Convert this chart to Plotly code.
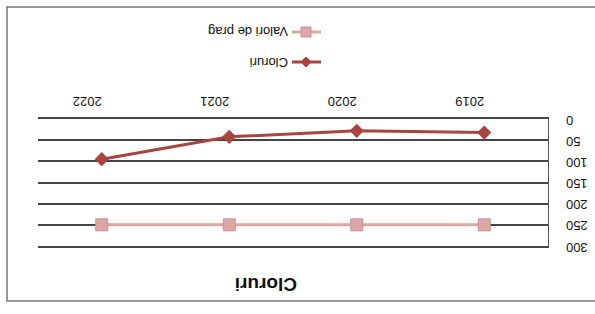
import plotly.graph_objects as go

years = ["2019", "2020", "2021", "2022"]
cloruri = [32, 28, 42, 95]
valori_prag = [250, 250, 250, 250]
y_ticks = [0, 50, 100, 150, 200, 250, 300]
y_ticktext = ["0", "50", "100", "150", "200", "250", "300"]

W, H = 595, 314
L, R, T, B = 38, 47, 119, 68
pw, ph = W - L - R, H - T - B

def px(x):
    return (x - L) / pw

def py(y):
    return (H - B - y) / ph

c_red = "#a9443f"
c_pink = "#dba6a3"
font = "Liberation Sans, Arial, sans-serif"
FS = "\u2007"
# pad so the upside-down labels line up on their left edge
padded = [FS * (3 - len(t)) + t for t in y_ticktext]

fig = go.Figure()
fig.add_trace(go.Scatter(x=years, y=cloruri, mode="lines+markers", name="Cloruri",
                         line=dict(color=c_red, width=3),
                         marker=dict(symbol="diamond", size=11, color=c_red)))
fig.add_trace(go.Scatter(x=years, y=valori_prag, mode="lines+markers", name="Valori de prag",
                         line=dict(color=c_pink, width=3),
                         marker=dict(symbol="square", size=12, color=c_pink,
                                     line=dict(color="#c99390", width=1))))

shapes = [
    dict(type="rect", xref="paper", yref="paper", x0=px(7), x1=px(603), y0=py(301), y1=py(7),
         line=dict(color="#777777", width=1.5), fillcolor="rgba(0,0,0,0)", layer="below"),
]
annotations = [
    dict(text="<b>Cloruri</b>", xref="paper", yref="paper", x=px(266), y=py(285),
         xanchor="center", yanchor="middle",
         showarrow=False, textangle=180, font=dict(size=19, color="#111", family=font)),
]
legend_items = [("Cloruri", c_red, "diamond", 62), ("Valori de prag", c_pink, "square", 32)]
for name, col, sym, yy in legend_items:
    shapes.append(dict(type="line", xref="paper", yref="paper", x0=px(292), x1=px(321),
                       y0=py(yy), y1=py(yy), line=dict(color=col, width=3)))
    if sym == "diamond":
        shapes.append(dict(type="path", xref="paper", yref="paper", xsizemode="pixel", ysizemode="pixel",
                           xanchor=px(306), yanchor=py(yy), path="M -5 0 L 0 5 L 5 0 L 0 -5 Z",
                           fillcolor=col, line=dict(color=col, width=1)))
    else:
        shapes.append(dict(type="rect", xref="paper", yref="paper", xsizemode="pixel", ysizemode="pixel",
                           xanchor=px(306), yanchor=py(yy), x0=-5, x1=5, y0=-5, y1=5,
                           fillcolor=col, line=dict(color="#c99390", width=1)))
    annotations.append(dict(text=name, xref="paper", yref="paper", x=px(290), y=py(yy),
                            xanchor="right", yanchor="middle", showarrow=False, textangle=180,
                            font=dict(size=13, color="#111", family=font)))

fig.update_layout(
    width=W, height=H, margin=dict(l=L, r=R, t=T, b=B, autoexpand=False),
    paper_bgcolor="white", plot_bgcolor="white", showlegend=False,
    shapes=shapes, annotations=annotations,
    font=dict(family=font, size=13, color="#111"),
)
fig.update_xaxes(type="category", categoryorder="array", categoryarray=years,
                 range=[3.5, -0.5], side="top", tickangle=180, showgrid=False,
                 showline=True, mirror=True, linecolor="#444", linewidth=1.5,
                 ticks="", ticklabelstandoff=2, automargin=False,
                 tickfont=dict(size=13, family=font, color="#111"))
fig.update_yaxes(range=[300, 0], tickvals=y_ticks, ticktext=padded, side="right", tickangle=180,
                 showgrid=True, gridcolor="#444", gridwidth=1.5,
                 showline=True, linecolor="#555", linewidth=1, zeroline=False,
                 ticks="", ticklabelstandoff=36, ticklabelshift=-5, automargin=False,
                 tickfont=dict(size=13, family=font, color="#111"))

fig.write_html("out.html", config={"displayModeBar": False},
               post_script="document.body.style.margin='0';document.body.style.padding='0';")
